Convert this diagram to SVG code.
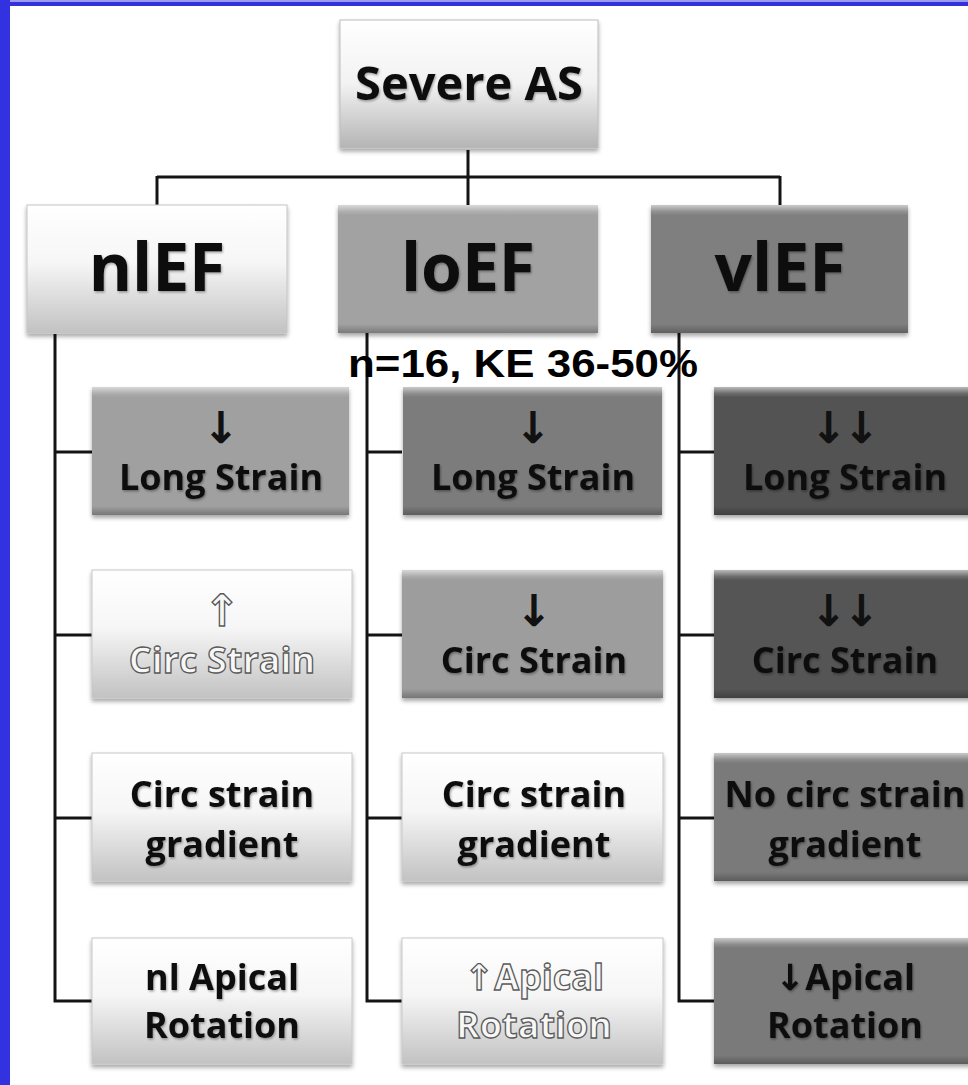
<svg xmlns="http://www.w3.org/2000/svg" width="968" height="1085" viewBox="0 0 968 1085">
<defs>
<linearGradient id="gWhite" x1="0" y1="0" x2="0" y2="1">
<stop offset="0" stop-color="#ffffff"/>
<stop offset="0.45" stop-color="#f6f6f6"/>
<stop offset="1" stop-color="#c2c2c2"/>
</linearGradient>
<linearGradient id="gTop" x1="0" y1="0" x2="0" y2="1">
<stop offset="0" stop-color="#ffffff"/>
<stop offset="0.5" stop-color="#f2f2f2"/>
<stop offset="1" stop-color="#b4b4b4"/>
</linearGradient>
<linearGradient id="gBevel" x1="0" y1="0" x2="0" y2="1">
<stop offset="0" stop-color="#ffffff" stop-opacity="0.6"/>
<stop offset="0.05" stop-color="#ffffff" stop-opacity="0.15"/>
<stop offset="0.08" stop-color="#ffffff" stop-opacity="0"/>
<stop offset="0.93" stop-color="#000000" stop-opacity="0"/>
<stop offset="1" stop-color="#000000" stop-opacity="0.25"/>
</linearGradient>
<filter id="shadow" x="-5%" y="-5%" width="110%" height="115%">
<feDropShadow dx="0" dy="3" stdDeviation="2" flood-color="#000" flood-opacity="0.35"/>
</filter>
<filter id="tshadow" x="-5%" y="-10%" width="110%" height="130%">
<feDropShadow dx="1" dy="1.5" stdDeviation="1.2" flood-color="#000" flood-opacity="0.35"/>
</filter>
</defs>
<style>
.box{filter:url(#shadow);}
.bev{fill:url(#gBevel);}
.t{font-family:"Open Sans","DejaVu Sans",sans-serif;font-weight:bold;text-anchor:middle;fill:#111;}
.big{font-size:66px;}
.top{font-size:47px;}
.mid{font-size:36px;}
.arr{font-family:"DejaVu Sans",sans-serif;font-weight:bold;font-size:44px;text-anchor:middle;fill:#111;}
.dbl{letter-spacing:-4px;}
.out{fill:#f7f7f7;stroke:#5a5a5a;stroke-width:1.3px;}
.lbl{font-family:"Liberation Sans",Arial,sans-serif;font-weight:bold;font-size:38px;text-anchor:middle;fill:#000;}
.ln{stroke:#141414;stroke-width:3;fill:none;}
</style>
<rect x="0" y="0" width="968" height="1085" fill="#ffffff"/>
<rect x="0" y="0" width="968" height="6" fill="#3232d8"/>
<rect x="0" y="0" width="968" height="2" fill="#9a9af0"/>
<rect x="0" y="0" width="10" height="1085" fill="#3232e0"/>

<g id="connectors">
<path class="ln" d="M468 150 V177 M157 177 H780 M157 176 V205 M468 176 V205 M780 176 V205"/>
<path class="ln" d="M55 334 V1001 H92 M55 452 H92 M55 635 H92 M55 818 H92"/>
<path class="ln" d="M367 333 V1001 H402 M367 452 H402 M367 635 H402 M367 818 H402"/>
<path class="ln" d="M679 333 V1001 H714 M679 452 H714 M679 635 H714 M679 818 H714"/>
</g>

<g id="severe-as">
<rect class="box" x="340" y="20" width="258" height="128" fill="url(#gTop)" stroke="#bdbdbd" stroke-width="1"/>
<text class="t top" x="469" y="100" filter="url(#tshadow)">Severe AS</text>
</g>

<g id="nlEF">
<rect class="box" x="27" y="205" width="260" height="128" fill="url(#gWhite)" stroke="#c4c4c4" stroke-width="1"/>
<text class="t big" x="157" y="291" filter="url(#tshadow)">nlEF</text>
</g>
<g id="loEF">
<rect class="box" x="338" y="205" width="260" height="128" fill="#a2a2a2"/>
<rect class="bev" x="338" y="205" width="260" height="128"/>
<text class="t big" x="468" y="291" filter="url(#tshadow)">loEF</text>
</g>
<g id="vlEF">
<rect class="box" x="651" y="205" width="257" height="128" fill="#7f7f7f"/>
<rect class="bev" x="651" y="205" width="257" height="128"/>
<text class="t big" x="780" y="291" filter="url(#tshadow)">vlEF</text>
</g>

<text id="n-label" class="lbl" x="523" y="377" textLength="350" lengthAdjust="spacingAndGlyphs">n=16, KE 36-50%</text>

<!-- Row 1 -->
<g id="r1c1">
<rect class="box" x="92" y="387" width="257" height="128" fill="#a0a0a0"/>
<rect class="bev" x="92" y="387" width="257" height="128"/>
<text class="arr" x="221" y="443">↓</text>
<text class="t mid" x="221" y="490" filter="url(#tshadow)">Long Strain</text>
</g>
<g id="r1c2">
<rect class="box" x="403" y="387" width="259" height="128" fill="#7b7b7b"/>
<rect class="bev" x="403" y="387" width="259" height="128"/>
<text class="arr" x="533" y="443">↓</text>
<text class="t mid" x="533" y="490" filter="url(#tshadow)">Long Strain</text>
</g>
<g id="r1c3">
<rect class="box" x="714" y="387" width="262" height="128" fill="#535353"/>
<rect class="bev" x="714" y="387" width="262" height="128"/>
<text class="arr dbl" x="843" y="443">↓↓</text>
<text class="t mid" x="845" y="490" filter="url(#tshadow)">Long Strain</text>
</g>

<!-- Row 2 -->
<g id="r2c1">
<rect class="box" x="92" y="570" width="260" height="128" fill="url(#gWhite)" stroke="#c8c8c8" stroke-width="1"/>
<text class="arr out" x="222" y="626">↑</text>
<text class="t mid out" x="222" y="673">Circ Strain</text>
</g>
<g id="r2c2">
<rect class="box" x="402" y="570" width="261" height="128" fill="#9d9d9d"/>
<rect class="bev" x="402" y="570" width="261" height="128"/>
<text class="arr" x="534" y="626">↓</text>
<text class="t mid" x="534" y="673" filter="url(#tshadow)">Circ Strain</text>
</g>
<g id="r2c3">
<rect class="box" x="714" y="570" width="262" height="128" fill="#545454"/>
<rect class="bev" x="714" y="570" width="262" height="128"/>
<text class="arr dbl" x="843" y="626">↓↓</text>
<text class="t mid" x="845" y="673" filter="url(#tshadow)">Circ Strain</text>
</g>

<!-- Row 3 -->
<g id="r3c1">
<rect class="box" x="92" y="753" width="260" height="128" fill="url(#gWhite)" stroke="#c8c8c8" stroke-width="1"/>
<text class="t mid" x="222" y="807" filter="url(#tshadow)">Circ strain</text>
<text class="t mid" x="222" y="857" filter="url(#tshadow)">gradient</text>
</g>
<g id="r3c2">
<rect class="box" x="402" y="753" width="261" height="128" fill="url(#gWhite)" stroke="#c8c8c8" stroke-width="1"/>
<text class="t mid" x="534" y="807" filter="url(#tshadow)">Circ strain</text>
<text class="t mid" x="534" y="857" filter="url(#tshadow)">gradient</text>
</g>
<g id="r3c3">
<rect class="box" x="714" y="753" width="262" height="128" fill="#7a7a7a"/>
<rect class="bev" x="714" y="753" width="262" height="128"/>
<text class="t mid" x="845" y="807" filter="url(#tshadow)">No circ strain</text>
<text class="t mid" x="845" y="857" filter="url(#tshadow)">gradient</text>
</g>

<!-- Row 4 -->
<g id="r4c1">
<rect class="box" x="92" y="938" width="260" height="126" fill="url(#gWhite)" stroke="#c8c8c8" stroke-width="1"/>
<text class="t mid" x="222" y="990" filter="url(#tshadow)">nl Apical</text>
<text class="t mid" x="222" y="1038" filter="url(#tshadow)">Rotation</text>
</g>
<g id="r4c2">
<rect class="box" x="402" y="938" width="261" height="126" fill="url(#gWhite)" stroke="#c8c8c8" stroke-width="1"/>
<text class="t mid out" x="534" y="990">↑Apical</text>
<text class="t mid out" x="534" y="1038">Rotation</text>
</g>
<g id="r4c3">
<rect class="box" x="714" y="938" width="262" height="126" fill="#7a7a7a"/>
<rect class="bev" x="714" y="938" width="262" height="126"/>
<text class="t mid" x="845" y="990" filter="url(#tshadow)">↓Apical</text>
<text class="t mid" x="845" y="1038" filter="url(#tshadow)">Rotation</text>
</g>
</svg>
